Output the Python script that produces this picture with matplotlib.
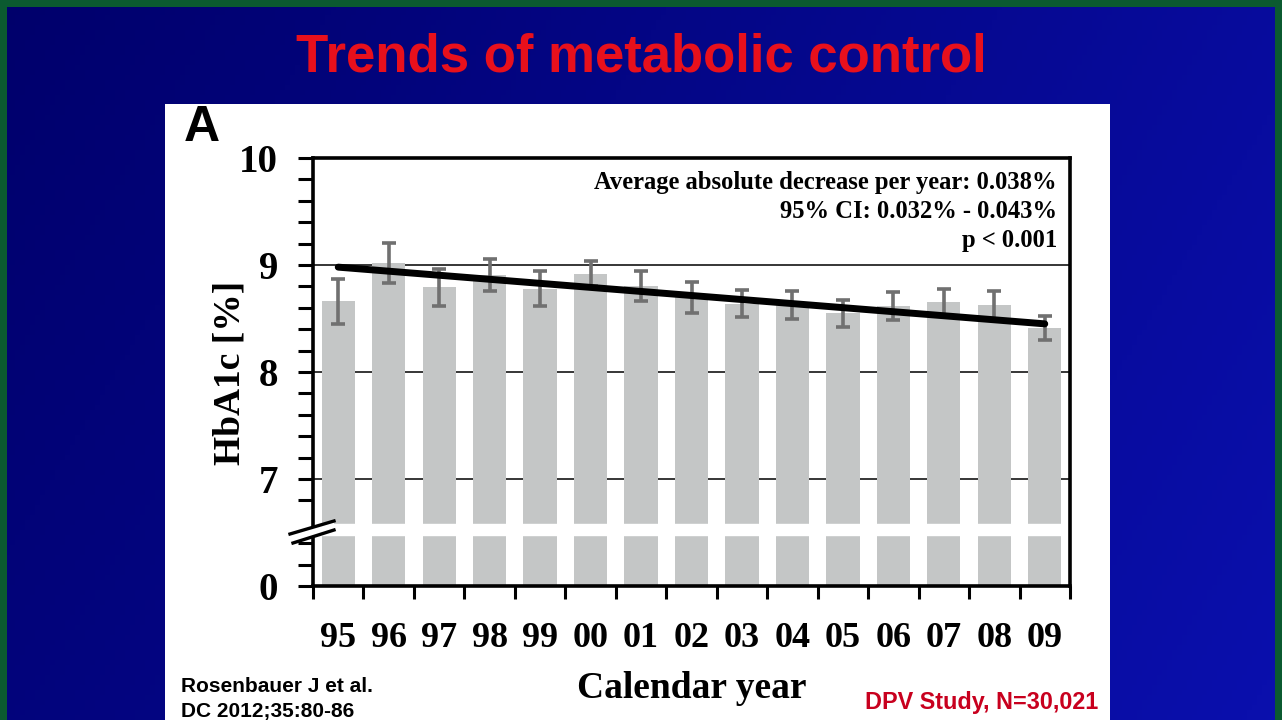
import numpy as np
import matplotlib.pyplot as plt
from matplotlib.patches import Rectangle, Polygon

# data
years = ['95', '96', '97', '98', '99', '00', '01', '02', '03', '04', '05', '06', '07', '08', '09']
hba1c = [8.66, 9.02, 8.79, 8.91, 8.78, 8.92, 8.80, 8.70, 8.64, 8.63, 8.55, 8.62, 8.65, 8.63, 8.41]
ci_half = [0.21, 0.19, 0.17, 0.15, 0.16, 0.12, 0.14, 0.145, 0.13, 0.13, 0.125, 0.13, 0.13, 0.13, 0.11]
trend_ends = [8.98, 8.45]
stats_text = ['Average absolute decrease per year: 0.038%',
              '95% CI: 0.032% - 0.043%',
              'p < 0.001']

# broken axis: the value 6.0 on the axis stands for 0
axis_floor = 6.0
gap_lo, gap_hi = 6.48, 6.58

W, H = 1282, 720
fig = plt.figure(figsize=(W / 100, H / 100), dpi=100)

# slide background
bg = fig.add_axes([0, 0, 1, 1])
bg.set_xlim(0, W)
bg.set_ylim(H, 0)
bg.axis('off')
gx = np.linspace(0, 1, 256)
gy = np.linspace(0, 1, 144)
GX, GY = np.meshgrid(gx, gy)
t = np.clip(0.75 * GX + 0.25 * GY, 0, 1)
c0 = np.array([0.0, 0.0, 0.42])
c1 = np.array([0.04, 0.06, 0.68])
img = c0[None, None, :] * (1 - t[..., None]) + c1[None, None, :] * t[..., None]
bg.imshow(img, extent=[0, W, H, 0], aspect='auto', zorder=0)
green = '#0b5a30'
bg.add_patch(Rectangle((0, 0), W, 7, fc=green, ec='none', zorder=1))
bg.add_patch(Rectangle((0, 0), 7, H, fc=green, ec='none', zorder=1))
bg.add_patch(Rectangle((W - 7, 0), 7, H, fc=green, ec='none', zorder=1))
bg.add_patch(Rectangle((165, 104), 945, 620, fc='white', ec='none', zorder=2))

bg.text(641, 58, 'Trends of metabolic control', color='#e8101c', fontsize=38,
        fontweight='bold', family='Liberation Sans', ha='center', va='center', zorder=3)
bg.text(184, 128, 'A', color='black', fontsize=36, fontweight='bold',
        family='Liberation Sans', ha='left', va='center', zorder=3)
bg.text(181, 687, 'Rosenbauer J et al.', color='black', fontsize=15, fontweight='bold',
        family='Liberation Sans', ha='left', va='center', zorder=3)
bg.text(181, 711, 'DC 2012;35:80-86', color='black', fontsize=15, fontweight='bold',
        family='Liberation Sans', ha='left', va='center', zorder=3)
bg.text(1098, 702, 'DPV Study, N=30,021', color='#c8001e', fontsize=16.8, fontweight='bold',
        family='Liberation Sans', ha='right', va='center', zorder=3)
bg.text(230, 373, 'HbA1c [%]', rotation=90, color='black', fontsize=27, fontweight='bold',
        family='Liberation Serif', ha='center', va='center', zorder=3)
bg.text(692, 688, 'Calendar year', color='black', fontsize=27, fontweight='bold',
        family='Liberation Serif', ha='center', va='center', zorder=3)

# chart
ax = fig.add_axes([313 / W, 1 - 586 / H, 757 / W, 428 / H])
ax.set_facecolor('none')
ax.set_zorder(5)
x = np.arange(len(years))
heights = [v - axis_floor for v in hba1c]
ax.bar(x, heights, width=0.66, bottom=axis_floor, color='#c4c6c6', zorder=2)
ax.errorbar(x, hba1c, yerr=ci_half, fmt='none', ecolor='#707070', elinewidth=2.6,
            capsize=5, capthick=2.6, zorder=3)
ax.plot([x[0], x[-1]], trend_ends, color='black', lw=5, solid_capstyle='round', zorder=4)
ax.axhspan(gap_lo, gap_hi, color='white', zorder=2.5)
for g in [7, 8, 9]:
    ax.axhline(g, color='black', lw=1.1, zorder=1)

ax.set_xlim(-0.5, len(years) - 0.5)
ax.set_ylim(axis_floor, 10)

ax.set_yticks([6, 7, 8, 9, 10])
ax.set_yticklabels(['0', '7', '8', '9', '10'])
ax.set_yticks([6.2, 6.4, 6.8] + list(np.arange(7.2, 10, 0.2)), minor=True)
ax.tick_params(axis='y', which='both', direction='out', length=11, width=2.2,
               labelsize=28, pad=14)

ax.set_xticks(np.arange(-0.5, len(years), 1.0))
ax.set_xticklabels([])
ax.set_xticks(x, minor=True)
ax.set_xticklabels(years, minor=True)
ax.tick_params(axis='x', which='major', direction='out', length=9, width=2.2)
ax.tick_params(axis='x', which='minor', length=0, labelsize=26, pad=26)

for lab in ax.get_xticklabels(minor=True) + ax.get_yticklabels():
    lab.set_family('Liberation Serif')
    lab.set_fontweight('bold')

for side in ['left', 'bottom', 'right', 'top']:
    ax.spines[side].set_linewidth(2.6)

ax.text(1057, 171, '\n'.join(stats_text), transform=bg.transData, ha='right', va='top',
        fontsize=17.7, fontweight='bold', family='Liberation Serif', linespacing=1.33, zorder=5)

# axis break marks
ax.add_patch(Polygon([[290, 534], [334, 521], [334, 530], [293, 543]], closed=True,
                     fc='white', ec='none', zorder=6, transform=bg.transData, clip_on=False))
ax.plot([290, 334], [534, 521], color='black', lw=2.4, zorder=7,
        transform=bg.transData, clip_on=False)
ax.plot([293, 334], [543, 530], color='black', lw=2.4, zorder=7,
        transform=bg.transData, clip_on=False)

fig.savefig('out.png', dpi=100)
